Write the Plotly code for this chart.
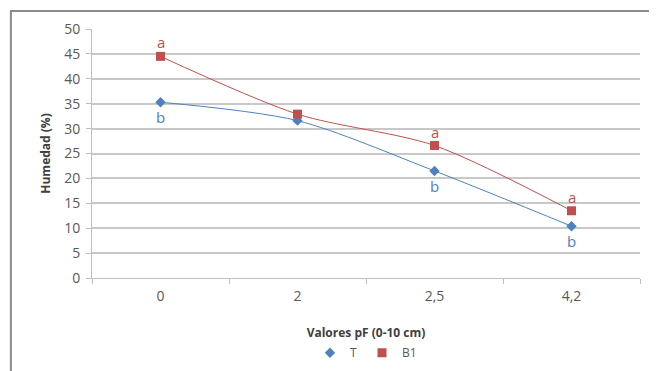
import plotly.graph_objects as go

categories = ["0", "2", "2,5", "4,2"]
t_values = [35.3, 31.6, 21.5, 10.4]
b1_values = [44.5, 32.9, 26.6, 13.5]
t_labels = ["b", "", "b", "b"]
b1_labels = ["a", "", "a", "a"]
y_ticks = [0, 5, 10, 15, 20, 25, 30, 35, 40, 45, 50]

BLUE = "#4F81BD"
RED = "#C0504D"

fig = go.Figure()
fig.add_trace(go.Scatter(
    x=categories, y=t_values, name="T", mode="lines+markers", showlegend=False,
    line=dict(color=BLUE, width=1, shape="spline", smoothing=0.8),
    marker=dict(symbol="diamond", size=8, color=BLUE),
))
fig.add_trace(go.Scatter(
    x=categories, y=b1_values, name="B1", mode="lines+markers", showlegend=False,
    line=dict(color=RED, width=1, shape="spline", smoothing=0.8),
    marker=dict(symbol="square", size=9, color=RED),
))
# legend entries (markers only, as in the reference)
fig.add_trace(go.Scatter(x=[None], y=[None], name="T", mode="markers",
                         marker=dict(symbol="diamond", size=8, color=BLUE)))
fig.add_trace(go.Scatter(x=[None], y=[None], name="B1", mode="markers",
                         marker=dict(symbol="square", size=9, color=RED)))

for c, v, lab in zip(categories, b1_values, b1_labels):
    if lab:
        fig.add_annotation(x=c, y=v, text=lab, showarrow=False, yshift=14,
                           font=dict(color=RED, size=15, family="Open Sans"))
for c, v, lab in zip(categories, t_values, t_labels):
    if lab:
        fig.add_annotation(x=c, y=v, text=lab, showarrow=False, yshift=-15,
                           font=dict(color=BLUE, size=15, family="Open Sans"))

# outer chart border (left and top visible)
fig.add_shape(type="path", xref="paper", yref="paper",
              path="M -0.148,-0.5 L -0.148,1.072 L 1.2,1.072",
              line=dict(color="#8a8a8a", width=2))

fig.update_layout(
    width=657, height=371,
    margin=dict(l=84, r=25, t=21, b=101, autoexpand=False),
    paper_bgcolor="white", plot_bgcolor="white",
    font=dict(family="Open Sans", color="#595959", size=12),
    showlegend=True,
    legend=dict(orientation="h", x=0.5, xanchor="center", y=-0.30, yanchor="middle",
                font=dict(size=12, color="#595959"), itemwidth=30,
                tracegroupgap=0),
    xaxis=dict(
        type="category", range=[-0.5, 3.5], automargin=False,
        showline=True, linecolor="#BFBFBF", linewidth=1,
        ticks="outside", tickson="boundaries", ticklen=5, tickcolor="#BFBFBF",
        showgrid=False, ticklabelstandoff=5,
        title=dict(text="<b>Valores pF (0-10 cm)</b>", font=dict(size=12, color="#404040"), standoff=24),
        tickfont=dict(size=14, color="#595959"),
    ),
    yaxis=dict(
        range=[0, 50], tickvals=y_ticks, automargin=False,
        showline=True, linecolor="#BFBFBF", linewidth=1,
        ticks="outside", ticklen=5, tickcolor="#BFBFBF",
        showgrid=True, gridcolor="#C8C8C8", gridwidth=1.5,
        zeroline=False, ticklabelstandoff=3,
        title=dict(text="<b>Humedad (%)</b>", font=dict(size=12, color="#404040"), standoff=10),
        tickfont=dict(size=14, color="#595959"),
    ),
)

fig.write_html("out.html")
